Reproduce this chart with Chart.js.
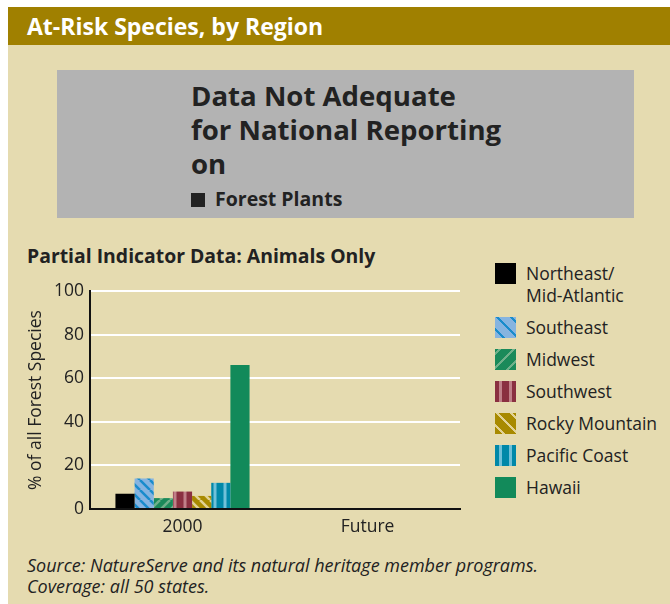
<!DOCTYPE html>
<html><head><meta charset="utf-8">
<script src="https://cdn.jsdelivr.net/npm/chart.js@4.4.0/dist/chart.umd.min.js"></script>
<style>
html,body{margin:0;padding:0;background:#fff;width:670px;height:604px;overflow:hidden;font-family:"Open Sans",sans-serif;}
#bar{position:absolute;left:8px;top:7px;width:662px;height:38px;background:#a08000;}
#bar span{position:absolute;left:19px;top:3px;color:#fff;font-weight:bold;font-size:23px;}
#bg{position:absolute;left:8px;top:45px;width:662px;height:559px;background:#e5dbb0;}
#gray{position:absolute;left:57px;top:70px;width:577px;height:148px;background:#b3b3b3;}
#gray .big{position:absolute;left:134px;font-weight:bold;font-size:27.6px;color:#222;line-height:34px;white-space:nowrap;}
#gray .small{position:absolute;left:134px;top:115px;font-weight:bold;font-size:19.5px;color:#222;white-space:nowrap;}
#gray .sq{display:inline-block;width:14px;height:14px;background:#222;margin-right:10px;vertical-align:-1px;}
#ctitle{position:absolute;left:27px;top:242px;font-weight:bold;font-size:19.4px;color:#222;white-space:nowrap;}
#src{position:absolute;left:27px;top:555px;font-style:italic;font-size:18px;color:#222;line-height:21px;white-space:nowrap;}
#wrap{position:absolute;left:0;top:270px;width:470px;height:270px;}
#legend{position:absolute;left:495px;top:0;}
.li{position:absolute;left:0;width:180px;font-size:17.5px;color:#222;line-height:22px;}
.li .sw{position:absolute;left:0;top:0;width:21px;height:21px;}
.li .tx{position:absolute;left:31px;top:-1px;white-space:nowrap;}
</style></head><body>
<div id="bar"><span>At-Risk Species, by Region</span></div>
<div id="bg"></div>
<div id="gray">
<div class="big" style="top:8px">Data Not Adequate</div>
<div class="big" style="top:42px">for National Reporting</div>
<div class="big" style="top:76px">on</div>
<div class="small"><span class="sq"></span>Forest Plants</div>
</div>
<div id="ctitle">Partial Indicator Data: Animals Only</div>
<div id="wrap"><canvas id="c" width="470" height="270"></canvas></div>
<div id="legend"></div>
<div id="src">Source: NatureServe and its natural heritage member programs.<br>Coverage: all 50 states.</div>
<script>
const categories = ["2000", "Future"];
const regions = ["Northeast/\nMid-Atlantic", "Southeast", "Midwest", "Southwest", "Rocky Mountain", "Pacific Coast", "Hawaii"];
const northeast = [7, null];
const southeast = [14, null];
const midwest = [5, null];
const southwest = [8, null];
const rockyMountain = [6, null];
const pacificCoast = [12, null];
const hawaii = [66, null];
const yTicks = [0, 20, 40, 60, 80, 100];

const seriesValues = [northeast, southeast, midwest, southwest, rockyMountain, pacificCoast, hawaii];

const styles = [
  {base:"#000000"},
  {base:"#86b4e0", stripe:"#1a8ccc", type:"back"},
  {base:"#1a8a5a", stripe:"#6fb08a", type:"fwd"},
  {base:"#8a3040", stripe:"#c08088", type:"vert"},
  {base:"#a88a00", stripe:"#e2d294", type:"back"},
  {base:"#0088a8", stripe:"#70c0d8", type:"vert"},
  {base:"#128a5a"}
];

function makePattern(s){
  const size = 10;
  const cv = document.createElement('canvas');
  cv.width = size; cv.height = size;
  const g = cv.getContext('2d');
  g.fillStyle = s.base; g.fillRect(0,0,size,size);
  if(!s.type) return s.base;
  g.strokeStyle = s.stripe; g.lineWidth = 2.5;
  g.beginPath();
  if(s.type==="back"){
    for(let o=-size;o<=size;o+=size){ g.moveTo(o,0); g.lineTo(o+size,size); }
  } else if(s.type==="fwd"){
    for(let o=-size;o<=2*size;o+=size){ g.moveTo(o,size); g.lineTo(o+size,0); }
  } else {
    g.lineWidth = 3; g.moveTo(5,0); g.lineTo(5,size);
  }
  g.stroke();
  return document.getElementById('c').getContext('2d').createPattern(cv,'repeat');
}
function cssBg(s){
  if(!s.type) return s.base;
  if(s.type==="back") return `repeating-linear-gradient(45deg, ${s.base} 0 5px, ${s.stripe} 5px 7.5px, ${s.base} 7.5px 10px)`;
  if(s.type==="fwd") return `repeating-linear-gradient(-45deg, ${s.base} 0 5px, ${s.stripe} 5px 7.5px, ${s.base} 7.5px 10px)`;
  return `repeating-linear-gradient(90deg, ${s.base} 0 4px, ${s.stripe} 4px 7px, ${s.base} 7px 10px)`;
}

const datasets = regions.map((r,i)=>({
  label: r.replace("\n"," "),
  data: seriesValues[i],
  backgroundColor: makePattern(styles[i]),
  borderWidth: 0,
  categoryPercentage: 0.725,
  barPercentage: 1.0
}));

const legendTops = [263, 317, 349, 381, 413, 445, 477];
const lg = document.getElementById('legend');
regions.forEach((r,i)=>{
  const d = document.createElement('div');
  d.className='li'; d.style.top = legendTops[i]+'px';
  d.innerHTML = `<div class="sw" style="background:${cssBg(styles[i])}"></div><div class="tx">${r.replace("\n","<br>")}</div>`;
  lg.appendChild(d);
});

new Chart(document.getElementById('c'), {
  type:'bar',
  data:{labels:categories, datasets},
  options:{
    responsive:false, animation:false,
    layout:{padding:{top:21, right:10, left:0, bottom:0}},
    plugins:{legend:{display:false}, tooltip:{enabled:false}},
    scales:{
      x:{
        grid:{display:false, drawTicks:false},
        border:{display:true, color:"#111", width:2},
        ticks:{color:"#222", font:{family:"Open Sans", size:17.5}, padding:8},
        afterFit(s){ s.height = 31; }
      },
      y:{
        min:0, max:100,
        afterBuildTicks(s){ s.ticks = yTicks.map(v=>({value:v})); },
        grid:{color:(ctx)=>ctx.tick && ctx.tick.value===0 ? "rgba(0,0,0,0)" : "#ffffff", lineWidth:2, drawTicks:false},
        border:{display:true, color:"#111", width:2},
        ticks:{color:"#222", font:{family:"Open Sans", size:17.5}, padding:6},
        title:{display:true, text:"% of all Forest Species", color:"#222", font:{family:"Open Sans", size:17.5}, padding:{top:26,bottom:0}},
        afterFit(s){ s.width = 90; }
      }
    }
  }
});
</script>
</body></html>
